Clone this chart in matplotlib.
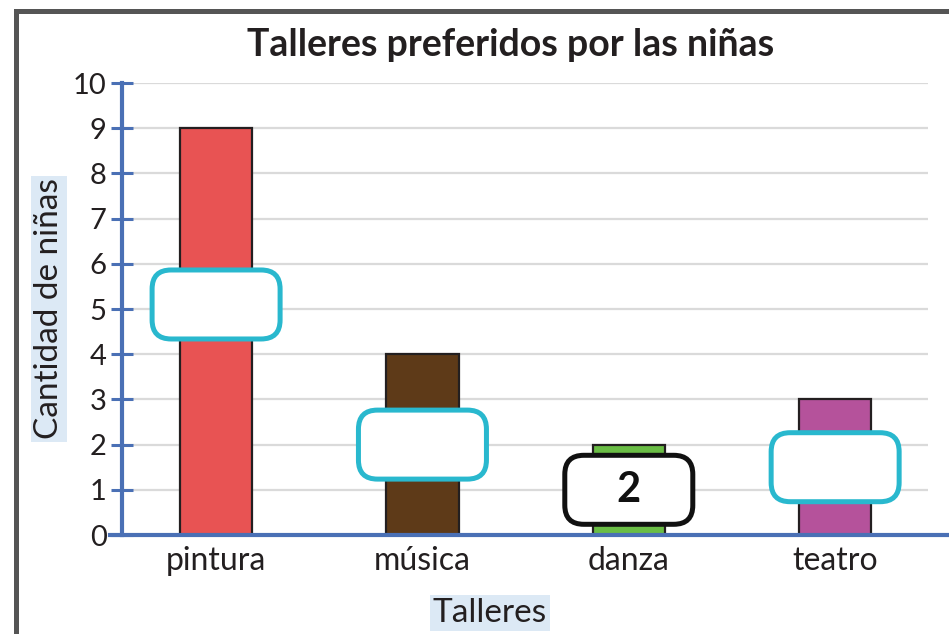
import matplotlib.pyplot as plt
from matplotlib.patches import FancyBboxPatch, Rectangle
from matplotlib.lines import Line2D

# data
talleres = ['pintura', 'música', 'danza', 'teatro']
ninas = [9, 4, 2, 3]
colores = ['#E85353', '#5E3A18', '#6ABD45', '#B5529B']
caja_y = [5.1, 2.0, 1.0, 1.5]          # centre of the answer boxes
caja_txt = ['', '', '2', '']
caja_borde = ['#29B8CE', '#29B8CE', '#111111', '#29B8CE']

plt.rcParams['font.family'] = ['Lato', 'DejaVu Sans']
azul = '#4A70B5'
texto = '#231F20'

fig = plt.figure(figsize=(9.49, 6.34), dpi=100)
ax = fig.add_axes([122 / 949, 1 - 535 / 634, 806 / 949, 452 / 634])

x = list(range(len(talleres)))
ax.bar(x, ninas, width=0.35, color=colores, edgecolor='#231F20',
       linewidth=1.6, zorder=3)

ax.set_xlim(-0.456, 3.45)
ax.set_ylim(0, 10)
ax.set_yticks(range(0, 11))
ax.set_xticks(x)
ax.set_xticklabels(talleres)
ax.tick_params(axis='y', direction='inout', length=16, width=2.2,
               color=azul, labelsize=21, labelcolor=texto, pad=3)
ax.tick_params(axis='x', length=0, labelsize=23, labelcolor=texto, pad=8)
ax.grid(axis='y', color='#DADADA', linewidth=1.6, zorder=0)
ax.set_axisbelow(True)
for s in ['top', 'right', 'bottom']:
    ax.spines[s].set_visible(False)
ax.spines['left'].set_color(azul)
ax.spines['left'].set_linewidth(3)
ax.spines['left'].set_zorder(5)

# x axis line runs past the plot area
fig.add_artist(Line2D([110 / 949, 1.0], [1 - 535 / 634] * 2, color=azul,
                      linewidth=3, zorder=6))

# answer boxes with round corners
fig.canvas.draw()
px_x = ax.transData.transform((1, 0))[0] - ax.transData.transform((0, 0))[0]
px_y = ax.transData.transform((0, 1))[1] - ax.transData.transform((0, 0))[1]
bw, bh = 128 / px_x, 69 / px_y
for xi, yc, t, ec in zip(x, caja_y, caja_txt, caja_borde):
    box = FancyBboxPatch((xi - bw / 2, yc - bh / 2), bw, bh,
                         boxstyle='round,pad=0,rounding_size=%f' % (19 / px_x),
                         mutation_aspect=px_x / px_y,
                         facecolor='white', edgecolor=ec, linewidth=3.6,
                         zorder=7)
    ax.add_patch(box)
    if t:
        ax.text(xi, yc, t, ha='center', va='center', fontsize=30,
                fontweight='bold', color='#111111', zorder=8)

fig.text(511 / 949, 1 - 45 / 634, 'Talleres preferidos por las niñas',
         fontsize=27, fontweight='bold', color=texto,
         ha='center', va='center')

ax.set_ylabel('Cantidad de niñas', fontsize=24, color=texto,
              bbox=dict(facecolor='#DCE9F5', edgecolor='none', pad=2))
ax.yaxis.set_label_coords((64 - 122) / 806, 0.5)
ax.set_xlabel('Talleres', fontsize=24, color=texto,
              bbox=dict(facecolor='#DCE9F5', edgecolor='none', pad=2))
ax.xaxis.set_label_coords((490 - 122) / 806, -(598 - 535) / 452)

# outer frame
fig.add_artist(Rectangle((16 / 949, -0.05), 1.0, 1 - 11 / 634 + 0.05,
                         transform=fig.transFigure, fill=False,
                         edgecolor='#555555', linewidth=3.6, zorder=10))

fig.savefig('out.png', dpi=100)
